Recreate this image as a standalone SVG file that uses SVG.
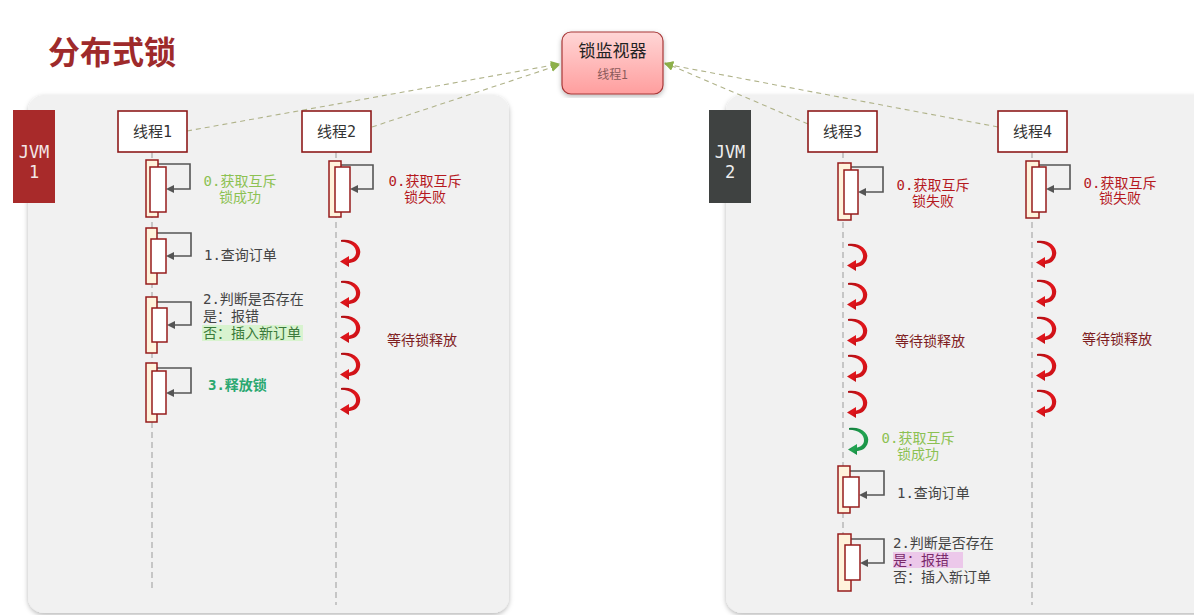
<svg xmlns="http://www.w3.org/2000/svg" xmlns:xlink="http://www.w3.org/1999/xlink" width="1194" height="615" viewBox="0 0 1194 615">
<defs>
<style>
.mono{font-family:"DejaVu Sans Mono","Noto Sans CJK SC",monospace;font-size:14px}
.sans{font-family:"Noto Sans CJK SC","Noto Sans",sans-serif}
.lbl{font-family:"DejaVu Sans Mono","Noto Sans CJK SC",monospace;font-size:15px;fill:#333}
.thread{fill:#fff;stroke:#8e1b1b;stroke-width:1.6}
.outer{fill:#fff3dc;stroke:#961c1c;stroke-width:1.5}
.inner{fill:#fff;stroke:#961c1c;stroke-width:1.5}
.life{stroke:#b8b8b8;stroke-width:1.5;stroke-dasharray:6 4;fill:none}
.self{fill:none;stroke:#555;stroke-width:1.6}
.head{fill:#555}
.dash{stroke:#b0b38a;stroke-width:1.1;stroke-dasharray:5 4;fill:none}
.ok{fill:#8cc152}
.fail{fill:#b5191f}
.dark{fill:#444}
.wait{fill:#7e2022;font-size:14px}
</style>
<linearGradient id="mon" x1="0" y1="0" x2="0" y2="1">
<stop offset="0" stop-color="#ffd6d6"/>
<stop offset="1" stop-color="#ff9e9e"/>
</linearGradient>
<linearGradient id="red" x1="0" y1="0" x2="1" y2="1">
<stop offset="0" stop-color="#a80d12"/>
<stop offset="0.5" stop-color="#e3161c"/>
<stop offset="1" stop-color="#c10f15"/>
</linearGradient>
<linearGradient id="grn" x1="0" y1="0" x2="1" y2="1">
<stop offset="0" stop-color="#0f7a3a"/>
<stop offset="0.5" stop-color="#22a552"/>
<stop offset="1" stop-color="#168a42"/>
</linearGradient>
<filter id="sh" x="-5%" y="-5%" width="110%" height="110%">
<feDropShadow dx="0" dy="2" stdDeviation="2.5" flood-color="#000" flood-opacity="0.28"/>
</filter>
<marker id="olive" viewBox="0 0 10 10" refX="9" refY="5" markerWidth="9" markerHeight="9" orient="auto" markerUnits="userSpaceOnUse">
<path d="M0,0 L10,5 L0,10 Z" fill="#8db04a"/>
</marker>
<g id="curl">
<path d="M1,1 C14,-1 22,8 20,15 C18.5,22 13,24 8,24 L8,20.5 C12,20.5 15.5,18 16,14 C16.5,8 11,3 1,2.8 Z"/>
<polygon points="0,22.5 9,17 9,28"/>
</g>
</defs>

<g id="background">
<rect width="1194" height="615" fill="#ffffff"/>
</g>

<g id="title">
<text x="48" y="64" class="sans" font-size="32" font-weight="bold" fill="#9e2a2b">分布式锁</text>
</g>

<g id="panel-jvm1">
<rect x="28" y="95" width="481" height="518" rx="16" fill="#f1f1f1" filter="url(#sh)"/>
</g>
<g id="panel-jvm2">
<rect x="726" y="95" width="500" height="518" rx="16" fill="#f1f1f1" filter="url(#sh)"/>
</g>

<g id="jvm1">
<rect x="13" y="110" width="42" height="93" fill="#a82a2a"/>
<text x="34" y="158" text-anchor="middle" font-family="DejaVu Sans Mono,monospace" font-size="17" fill="#f3e6e6">JVM</text>
<text x="34" y="178" text-anchor="middle" font-family="DejaVu Sans Mono,monospace" font-size="17" fill="#f3e6e6">1</text>
</g>
<g id="jvm2">
<rect x="709" y="110" width="42" height="93" fill="#3f4241"/>
<text x="730" y="158" text-anchor="middle" font-family="DejaVu Sans Mono,monospace" font-size="17" fill="#eeeeee">JVM</text>
<text x="730" y="178" text-anchor="middle" font-family="DejaVu Sans Mono,monospace" font-size="17" fill="#eeeeee">2</text>
</g>

<g id="lifelines">
<line class="life" x1="152" y1="152" x2="152" y2="590"/>
<line class="life" x1="336" y1="152" x2="336" y2="605"/>
<line class="life" x1="843" y1="152" x2="843" y2="590"/>
<line class="life" x1="1032" y1="152" x2="1032" y2="605"/>
</g>

<g id="connectors">
<line class="dash" x1="187" y1="131" x2="559" y2="64" marker-end="url(#olive)"/>
<line class="dash" x1="372" y1="127" x2="559" y2="65" marker-end="url(#olive)"/>
<line class="dash" x1="808" y1="124" x2="665" y2="63" marker-end="url(#olive)"/>
<line class="dash" x1="998" y1="127" x2="665" y2="64" marker-end="url(#olive)"/>
<path class="self" d="M158,164 H190 V189 H172"/>
<polygon class="head" points="166,189 174,185 174,193"/>
<path class="self" d="M157,233 H191 V256 H172"/>
<polygon class="head" points="166,256 174,252 174,260"/>
<path class="self" d="M157,302 H191 V325 H173"/>
<polygon class="head" points="167,325 175,321 175,329"/>
<path class="self" d="M157,368 H191 V393 H172"/>
<polygon class="head" points="166,393 174,389 174,397"/>
<path class="self" d="M341,165 H373 V189 H356"/>
<polygon class="head" points="350,189 358,185 358,193"/>
<path class="self" d="M851,167 H883 V192 H864"/>
<polygon class="head" points="858,192 866,188 866,196"/>
<path class="self" d="M850,471 H884 V495 H865"/>
<polygon class="head" points="859,495 867,491 867,499"/>
<path class="self" d="M851,539 H884 V563 H866"/>
<polygon class="head" points="860,563 868,559 868,567"/>
<path class="self" d="M1039,165 H1070 V189 H1052"/>
<polygon class="head" points="1046,189 1054,185 1054,193"/>
</g>

<g id="monitor">
<rect x="562" y="32" width="101" height="62" rx="9" fill="url(#mon)" stroke="#a83838" stroke-width="1.2" filter="url(#sh)"/>
<text x="612.5" y="57" text-anchor="middle" class="sans" font-size="17" fill="#222">锁监视器</text>
<text x="612.5" y="79" text-anchor="middle" class="sans" font-size="12" fill="#8a5a5a">线程1</text>
</g>

<g id="thread1">
<rect class="thread" x="118" y="111" width="69" height="41"/>
<text x="152.5" y="137" text-anchor="middle" class="lbl">线程1</text>
</g>
<g id="thread2">
<rect class="thread" x="302" y="111" width="69" height="41"/>
<text x="336.5" y="137" text-anchor="middle" class="lbl">线程2</text>
</g>
<g id="thread3">
<rect class="thread" x="808" y="111" width="69" height="41"/>
<text x="842.5" y="137" text-anchor="middle" class="lbl">线程3</text>
</g>
<g id="thread4">
<rect class="thread" x="998" y="111" width="69" height="41"/>
<text x="1032.5" y="137" text-anchor="middle" class="lbl">线程4</text>
</g>

<g id="t1-step0">
<rect class="outer" x="146" y="160" width="12" height="57"/>
<rect class="inner" x="150" y="167" width="16" height="45"/>
<text class="mono ok" x="240" y="186" text-anchor="middle">0.获取互斥</text>
<text class="mono ok" x="240" y="202" text-anchor="middle">锁成功</text>
</g>
<g id="t1-step1">
<rect class="outer" x="146" y="228" width="11" height="56"/>
<rect class="inner" x="151" y="239" width="15" height="34"/>
<text class="mono dark" x="204" y="260">1.查询订单</text>
</g>
<g id="t1-step2">
<rect class="outer" x="146" y="297" width="11" height="56"/>
<rect class="inner" x="152" y="308" width="15" height="34"/>
<rect x="202" y="325" width="101" height="16" fill="#d8f3cf"/>
<text class="mono dark" x="203" y="304">2.判断是否存在</text>
<text class="mono dark" x="203" y="321">是：报错</text>
<text class="mono" x="203" y="338" fill="#3a7a3a">否：插入新订单</text>
</g>
<g id="t1-step3">
<rect class="outer" x="146" y="363" width="11" height="59"/>
<rect class="inner" x="152" y="371" width="14" height="43"/>
<text class="mono" x="208" y="390" fill="#2aa870" font-weight="bold">3.释放锁</text>
</g>

<g id="t2-step0">
<rect class="outer" x="329" y="161" width="12" height="56"/>
<rect class="inner" x="335" y="167" width="15" height="45"/>
<text class="mono fail" x="425" y="186" text-anchor="middle">0.获取互斥</text>
<text class="mono fail" x="425" y="202" text-anchor="middle">锁失败</text>
</g>
<g id="t2-wait" fill="url(#red)">
<use xlink:href="#curl" x="340" y="239"/>
<use xlink:href="#curl" x="340" y="280"/>
<use xlink:href="#curl" x="340" y="315"/>
<use xlink:href="#curl" x="340" y="352"/>
<use xlink:href="#curl" x="340" y="387"/>
<text x="387" y="345" class="sans wait">等待锁释放</text>
</g>

<g id="t3-step0">
<rect class="outer" x="838" y="163" width="13" height="57"/>
<rect class="inner" x="844" y="170" width="14" height="44"/>
<text class="mono fail" x="933" y="190" text-anchor="middle">0.获取互斥</text>
<text class="mono fail" x="933" y="206" text-anchor="middle">锁失败</text>
</g>
<g id="t3-wait" fill="url(#red)">
<use xlink:href="#curl" x="847" y="243"/>
<use xlink:href="#curl" x="847" y="282"/>
<use xlink:href="#curl" x="847" y="318"/>
<use xlink:href="#curl" x="847" y="354"/>
<use xlink:href="#curl" x="847" y="390"/>
<text x="895" y="346" class="sans wait">等待锁释放</text>
</g>
<g id="t3-acquire" fill="url(#grn)">
<use xlink:href="#curl" x="848" y="427"/>
<text class="mono ok" x="918" y="443" text-anchor="middle">0.获取互斥</text>
<text class="mono ok" x="918" y="459" text-anchor="middle">锁成功</text>
</g>
<g id="t3-step1">
<rect class="outer" x="838" y="466" width="12" height="47"/>
<rect class="inner" x="843" y="477" width="16" height="30"/>
<text class="mono dark" x="897" y="498">1.查询订单</text>
</g>
<g id="t3-step2">
<rect class="outer" x="838" y="534" width="13" height="57"/>
<rect class="inner" x="845" y="545" width="15" height="35"/>
<rect x="893" y="552" width="70" height="16" fill="#ecc8ea"/>
<text class="mono dark" x="893" y="548">2.判断是否存在</text>
<text class="mono" x="893" y="565" fill="#7a2a6a">是：报错</text>
<text class="mono dark" x="893" y="582">否：插入新订单</text>
</g>

<g id="t4-step0">
<rect class="outer" x="1026" y="161" width="13" height="57"/>
<rect class="inner" x="1032" y="167" width="14" height="45"/>
<text class="mono fail" x="1120" y="188" text-anchor="middle">0.获取互斥</text>
<text class="mono fail" x="1120" y="203" text-anchor="middle">锁失败</text>
</g>
<g id="t4-wait" fill="url(#red)">
<use xlink:href="#curl" x="1036" y="240"/>
<use xlink:href="#curl" x="1036" y="279"/>
<use xlink:href="#curl" x="1036" y="316"/>
<use xlink:href="#curl" x="1036" y="353"/>
<use xlink:href="#curl" x="1036" y="389"/>
<text x="1082" y="344" class="sans wait">等待锁释放</text>
</g>
</svg>
